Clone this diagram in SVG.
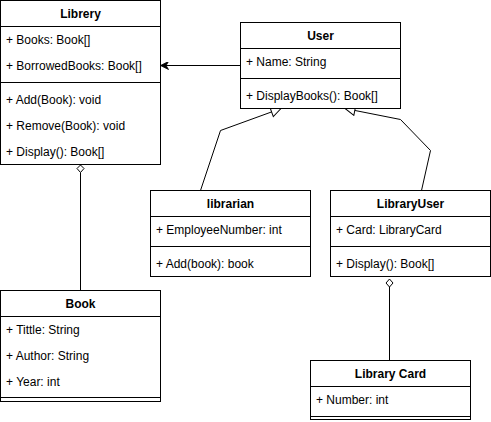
<svg xmlns="http://www.w3.org/2000/svg" width="491" height="422" viewBox="0 0 491 422">
<style>
  .box { fill: #ffffff; stroke: #000000; stroke-width: 1; }
  .sep { stroke: #000000; stroke-width: 1; fill: none; }
  .title { font-family: "Liberation Sans", Arial, sans-serif; font-size: 12px; font-weight: bold; text-anchor: middle; fill: #000000; }
  .item { font-family: "Liberation Sans", Arial, sans-serif; font-size: 12px; fill: #000000; }
  .conn { stroke: #000000; stroke-width: 1; fill: none; }
  .dia { fill: #ffffff; stroke: #000000; stroke-width: 1; }
</style>
<defs>
  <marker id="arrow" viewBox="0 0 10 10" refX="10" refY="5" markerWidth="8" markerHeight="8" markerUnits="userSpaceOnUse" orient="auto">
    <path d="M0,0 L10,5 L0,10 L3,5 Z" fill="#000000" stroke="#000000" stroke-width="1"/>
  </marker>
  <marker id="tri" viewBox="-1 -1 12 12" refX="10" refY="5" markerWidth="12" markerHeight="12" markerUnits="userSpaceOnUse" orient="auto">
    <path d="M0,0 L10,5 L0,10 Z" fill="#ffffff" stroke="#000000" stroke-width="1"/>
  </marker>
</defs>

<g id="connectors">
  <path class="conn" d="M240.5,65.5 L160.5,65.5" marker-end="url(#arrow)"/>
  <path class="conn" d="M200.5,190.5 L220.5,130.5 L281,108.5" marker-end="url(#tri)"/>
  <path class="conn" d="M421.5,190.5 L430.5,150.5 L400.5,119.5 L345,108.5" marker-end="url(#tri)"/>
  <path class="conn" d="M80.5,290 L80.5,172.5"/>
  <path class="conn" d="M389.5,360 L389.5,287"/>
  <path class="dia" d="M80.5,165 L84,168.5 L80.5,172.5 L77,168.5 Z"/>
  <path class="dia" d="M389.5,279 L393,283 L389.5,287 L386,283 Z"/>
</g>

<g id="librery">
  <rect class="box" x="0.5" y="0.5" width="160" height="164"/>
  <line class="sep" x1="0.5" y1="26.5" x2="160.5" y2="26.5"/>
  <line class="sep" x1="0.5" y1="82.5" x2="160.5" y2="82.5"/>
  <text class="title" x="80.5" y="18">Librery</text>
  <text class="item" x="6" y="44">+ Books: Book[]</text>
  <text class="item" x="6" y="70">+ BorrowedBooks: Book[]</text>
  <text class="item" x="6" y="104">+ Add(Book): void</text>
  <text class="item" x="6" y="130">+ Remove(Book): void</text>
  <text class="item" x="6" y="156">+ Display(): Book[]</text>
</g>

<g id="user">
  <rect class="box" x="240.5" y="22.5" width="160" height="86"/>
  <line class="sep" x1="240.5" y1="48.5" x2="400.5" y2="48.5"/>
  <line class="sep" x1="240.5" y1="78.5" x2="400.5" y2="78.5"/>
  <text class="title" x="320.5" y="40">User</text>
  <text class="item" x="246" y="66">+ Name: String</text>
  <text class="item" x="246" y="100">+ DisplayBooks(): Book[]</text>
</g>

<g id="librarian">
  <rect class="box" x="150.5" y="190.5" width="160" height="86"/>
  <line class="sep" x1="150.5" y1="216.5" x2="310.5" y2="216.5"/>
  <line class="sep" x1="150.5" y1="246.5" x2="310.5" y2="246.5"/>
  <text class="title" x="230.5" y="208">librarian</text>
  <text class="item" x="156" y="234">+ EmployeeNumber: int</text>
  <text class="item" x="156" y="268">+ Add(book): book</text>
</g>

<g id="libraryuser">
  <rect class="box" x="330.5" y="190.5" width="160" height="86"/>
  <line class="sep" x1="330.5" y1="216.5" x2="490.5" y2="216.5"/>
  <line class="sep" x1="330.5" y1="246.5" x2="490.5" y2="246.5"/>
  <text class="title" x="410.5" y="208">LibraryUser</text>
  <text class="item" x="336" y="234">+ Card: LibraryCard</text>
  <text class="item" x="336" y="268">+ Display(): Book[]</text>
</g>

<g id="book">
  <rect class="box" x="0.5" y="290.5" width="160" height="111"/>
  <line class="sep" x1="0.5" y1="316.5" x2="160.5" y2="316.5"/>
  <line class="sep" x1="0.5" y1="397.5" x2="160.5" y2="397.5"/>
  <text class="title" x="80.5" y="308">Book</text>
  <text class="item" x="6" y="334">+ Tittle: String</text>
  <text class="item" x="6" y="360">+ Author: String</text>
  <text class="item" x="6" y="386">+ Year: int</text>
</g>

<g id="librarycard">
  <rect class="box" x="310.5" y="360.5" width="160" height="59"/>
  <line class="sep" x1="310.5" y1="386.5" x2="470.5" y2="386.5"/>
  <line class="sep" x1="310.5" y1="416.5" x2="470.5" y2="416.5"/>
  <text class="title" x="390.5" y="378">Library Card</text>
  <text class="item" x="316" y="404">+ Number: int</text>
</g>
</svg>
